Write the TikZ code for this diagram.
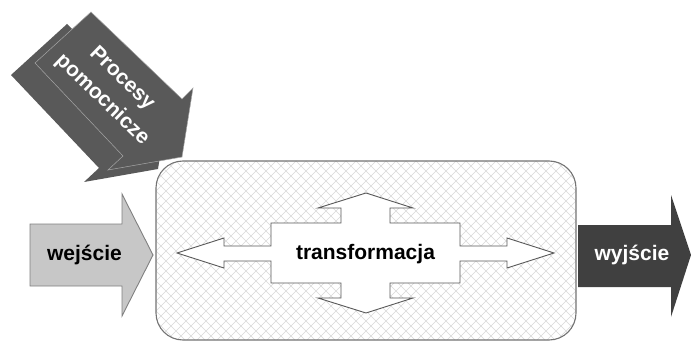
\documentclass[tikz,border=0pt]{standalone}
\usepackage{fontspec}
\setmainfont{Liberation Sans}
\begin{document}
\begin{tikzpicture}[x=1pt,y=-1pt,
  lbl/.style={font=\fontsize{21}{27}\selectfont\bfseries, inner sep=0pt},
  darkarrow/.style={fill=black!65},
]
\useasboundingbox (0,0) rectangle (691,342);
% Procesy pomocnicze (back and front arrows)
\fill[darkarrow, shift={(-24,12)}] (91,12) -- (182,99) -- (193,88) -- (182,157) -- (108,170) -- (123,156) -- (35,63) -- cycle;
\filldraw[darkarrow, draw=black!35, line width=0.5pt] (91,12) -- (182,99) -- (193,88) -- (182,157) -- (108,170) -- (123,156) -- (35,63) -- cycle;
\node[lbl, text=white, rotate=-44] (proc1) at (121.7,79) {Procesy};
\node[lbl, text=white, rotate=-44] (proc2) at (102.3,99.5) {pomocnicze};
% central box with crosshatch
\begin{scope}
  \clip[rounded corners=27pt] (156,161) rectangle (576,340);
  \fill[white] (156,161) rectangle (576,340);
  \foreach \i in {-200,-190,...,600} {
    \draw[black!15, line width=0.45pt] (156+\i,161) -- ++(200,200);
    \draw[black!15, line width=0.45pt] (156+\i,161) -- ++(-200,200);
  }
\end{scope}
\draw[black!55, line width=1.1pt, rounded corners=27pt] (156,161) rectangle (576,340);
% transformacja cross arrow
\filldraw[fill=white, draw=black!65, line width=0.9pt]
 (177,253) -- (224,238) -- (224,246) -- (271,246) -- (271,223) -- (341,223) -- (341,208) -- (318,208) -- (366,193) -- (413,208) -- (390,208) -- (390,223) -- (460,223) -- (460,246) -- (507,246) -- (507,238) -- (554,253) -- (507,268) -- (507,261) -- (460,261) -- (460,283) -- (390,283) -- (390,298) -- (413,298) -- (366,313) -- (318,298) -- (341,298) -- (341,283) -- (271,283) -- (271,261) -- (224,261) -- (224,268) -- cycle;
\node[lbl] (trans) at (365.5,254) {transformacja};
% wejscie arrow
\filldraw[fill=black!22, draw=black!50, line width=0.9pt]
 (30,224) -- (122,224) -- (122,194) -- (153,255) -- (122,316) -- (122,286) -- (30,286) -- cycle;
\node[lbl] (in) at (84.5,255) {wejście};
% wyjscie arrow
\fill[black!75]
 (578,225) -- (671,225) -- (671,195) -- (691,255) -- (671,317) -- (671,287) -- (578,287) -- cycle;
\node[lbl, text=white] (out) at (632,255) {wyjście};
\end{tikzpicture}
\end{document}
